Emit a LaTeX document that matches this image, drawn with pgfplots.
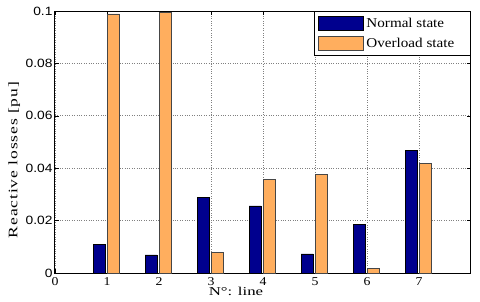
\documentclass[border=0pt]{standalone}
\usepackage{fontspec}
\setmainfont{Liberation Serif}
\newfontfamily\sansf{Liberation Sans}
\newfontfamily\wideserif[LetterSpace=5]{Liberation Serif}
\usepackage{graphicx}
\usepackage{pgfplots}
\pgfplotsset{compat=1.18}
\definecolor{navyb}{RGB}{0,0,142}
\definecolor{orangeb}{RGB}{255,174,94}
\definecolor{oedge}{RGB}{70,70,70}
\newcommand{\wx}[1]{\scalebox{1.15}[1]{#1}}
\newcommand{\wl}[1]{\scalebox{1.4}[1]{#1}}
\newcommand{\wy}[1]{\scalebox{1.35}[1]{\wideserif #1}}
\newcommand{\wg}[1]{\makebox[98pt][l]{\scalebox{1.12}[1]{#1}}}
\begin{document}
\begin{tikzpicture}
\useasboundingbox (0,0) rectangle (480pt,301pt);
\begin{axis}[
  at={(55pt,28pt)}, anchor=south west,
  scale only axis, width=416pt, height=262pt,
  xmin=0, xmax=8, ymin=0, ymax=0.1,
  xtick={0,1,2,3,4,5,6,7}, xticklabels={\wx{0},\wx{1},\wx{2},\wx{3},\wx{4},\wx{5},\wx{6},\wx{7}},
  ytick={0,0.02,0.04,0.06,0.08,0.1},
  yticklabels={\wx{0},\wx{0.02},\wx{0.04},\wx{0.06},\wx{0.08},\wx{0.1}},
  xticklabel style={font=\fontsize{12}{13}\selectfont, yshift=-1pt},
  yticklabel style={font=\sansf\fontsize{12}{13}\selectfont, xshift=1pt},
  tick align=inside, major tick length=4pt,
  tick style={black, line width=0.6pt},
  axis line style={black, line width=1pt},
  grid=major, major grid style={gray, dotted, line width=0.8pt},
  xlabel={\wl{N°: line}},
  xlabel style={at={(axis description cs:0.435,0)}, anchor=north, yshift=-11pt, font=\fontsize{12}{14}\selectfont},
  ylabel={\wy{Reactive losses [pu]}},
  ylabel style={at={(axis description cs:-0.098,0.431)}, anchor=center, font=\fontsize{13}{15}\selectfont},
  legend style={at={(1,1)}, anchor=north east, draw=black, line width=1pt,
    font=\fontsize{13.5}{15}\selectfont, row sep=5pt, inner xsep=3pt, inner ysep=4.5pt,
    nodes={inner xsep=3pt}},
  legend cell align=left,
  legend image code/.code={\draw[#1, line width=0.8pt] (0pt,-7pt) rectangle (45pt,7pt);},
]
\addplot[ybar, bar width=0.23, bar shift=-0.15, fill=navyb, draw=black, line width=0.6pt]
  coordinates {(1,0.0110) (2,0.0069) (3,0.0289) (4,0.0256) (5,0.0073) (6,0.0187) (7,0.0467)};
\addlegendentry{\wg{Normal state}}
\addplot[ybar, bar width=0.23, bar shift=0.13, fill=orangeb, draw=oedge, line width=0.6pt]
  coordinates {(1,0.0989) (2,0.0995) (3,0.0078) (4,0.0358) (5,0.0375) (6,0.0018) (7,0.0417)};
\addlegendentry{\wg{Overload state}}
\end{axis}
\end{tikzpicture}
\end{document}
